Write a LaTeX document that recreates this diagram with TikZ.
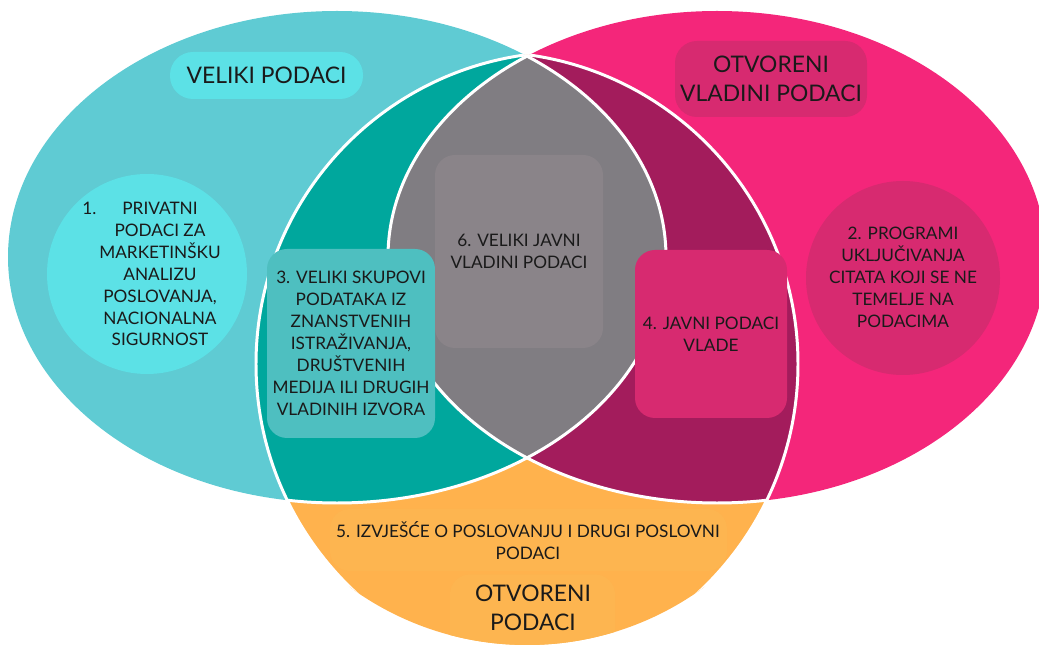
\documentclass[tikz,border=0pt]{standalone}
\usepackage{fontspec}
\setmainfont{Lato}
\definecolor{tealL}{HTML}{5FCBD3}
\definecolor{cyanB}{HTML}{5CE1E6}
\definecolor{tealD}{HTML}{00A79D}
\definecolor{tealBox}{HTML}{4EBFC0}
\definecolor{pinkL}{HTML}{F4267A}
\definecolor{pinkBox}{HTML}{D72A70}
\definecolor{magD}{HTML}{A31C5C}
\definecolor{grayL}{HTML}{807D82}
\definecolor{grayBox}{HTML}{8A8489}
\definecolor{orangeL}{HTML}{FFB24D}
\definecolor{orangeBox}{HTML}{FDB550}
\definecolor{txt}{HTML}{1A1A1A}
\newdimen\px \px=0.02cm
\tikzset{
  small/.style={font=\fontsize{9.8}{12.5}\selectfont, text=txt, align=center},
  big/.style={font=\fontsize{13}{16.5}\selectfont, text=txt, align=center},
  tbox/.style={rounded corners=20\px, inner sep=0pt},
  sep/.style={white, line width=1.7pt}
}
\begin{document}
\begin{tikzpicture}[x=0.02cm,y=-0.02cm]
\useasboundingbox (0,0) rectangle (1039,648);
\clip (0,0) rectangle (1039,648);
% outer ellipses
\fill[tealL] (337,257) ellipse [x radius=329, y radius=246];
\fill[pinkL] (717,257) ellipse [x radius=329, y radius=246];
% open data shape and its intersections
\begin{scope}
  \clip (568,364) circle [radius=312];
  \clip (486,364) circle [radius=312];
  \clip (527,345) circle [radius=300];
  \fill[orangeL] (0,0) rectangle (1039,648);
  \fill[tealD] (337,257) ellipse [x radius=329, y radius=246];
  \fill[magD] (717,257) ellipse [x radius=329, y radius=246];
  \begin{scope}
    \clip (337,257) ellipse [x radius=329, y radius=246];
    \fill[grayL] (717,257) ellipse [x radius=329, y radius=246];
  \end{scope}
  \draw[sep] (337,257) ellipse [x radius=329, y radius=246];
  \draw[sep] (717,257) ellipse [x radius=329, y radius=246];
  % faint label backgrounds inside the orange area
  \node[tbox, fill=orangeBox, minimum width=397\px, minimum height=62\px] (b5) at (528.5,540) {};
  \node[tbox, fill=orangeBox, minimum width=165\px, minimum height=85\px] (bo) at (532.5,617) {};
\end{scope}
\begin{scope}
  \clip (486,364) circle [radius=312];
  \clip (527,345) circle [radius=300];
  \draw[sep] (568,364) circle [radius=312];
\end{scope}
\begin{scope}
  \clip (568,364) circle [radius=312];
  \clip (527,345) circle [radius=300];
  \draw[sep] (486,364) circle [radius=312];
\end{scope}
% titles
\node[big, tbox, rounded corners=23\px, fill=cyanB, minimum width=193\px, minimum height=47\px] (vp) at (266.5,75.5) {VELIKI PODACI};
\node[big, tbox, rounded corners=22\px, fill=pinkBox, minimum width=192\px, minimum height=76\px] (ovp) at (771,79) {OTVORENI\\VLADINI PODACI};
% circles 1 and 2
\node[circle, fill=cyanB, minimum size=200\px, inner sep=0pt] (c1) at (147,274) {};
\node[small] (t1) at (160,274) {\llap{1.\hspace{14.7pt}}PRIVATNI\\PODACI ZA\\MARKETINŠKU\\ANALIZU\\POSLOVANJA,\\NACIONALNA\\SIGURNOST};
\node[circle, fill=pinkBox, minimum size=194\px, inner sep=0pt] (c2) at (903,278) {};
\node[small] (t2) at (903,277) {2. PROGRAMI\\UKLJUČIVANJA\\CITATA KOJI SE NE\\TEMELJE NA\\PODACIMA};
% inner boxes
\node[small, tbox, fill=tealBox, minimum width=168\px, minimum height=189\px] (b3) at (351,343.5) {3. VELIKI SKUPOVI\\PODATAKA IZ\\ZNANSTVENIH\\ISTRAŽIVANJA,\\DRUŠTVENIH\\MEDIJA ILI DRUGIH\\VLADINIH IZVORA};
\node[small, tbox, fill=grayBox, minimum width=168\px, minimum height=193\px] (b6) at (519,251.5) {6. VELIKI JAVNI\\VLADINI PODACI};
\node[small, tbox, fill=pinkBox, minimum width=152\px, minimum height=168\px] (b4) at (711,334) {4. JAVNI PODACI\\VLADE};
\node[small] (t5) at (528,541) {5. IZVJEŠĆE O POSLOVANJU I DRUGI POSLOVNI\\PODACI};
\node[big] (to) at (533,608) {OTVORENI\\PODACI};
\end{tikzpicture}
\end{document}
